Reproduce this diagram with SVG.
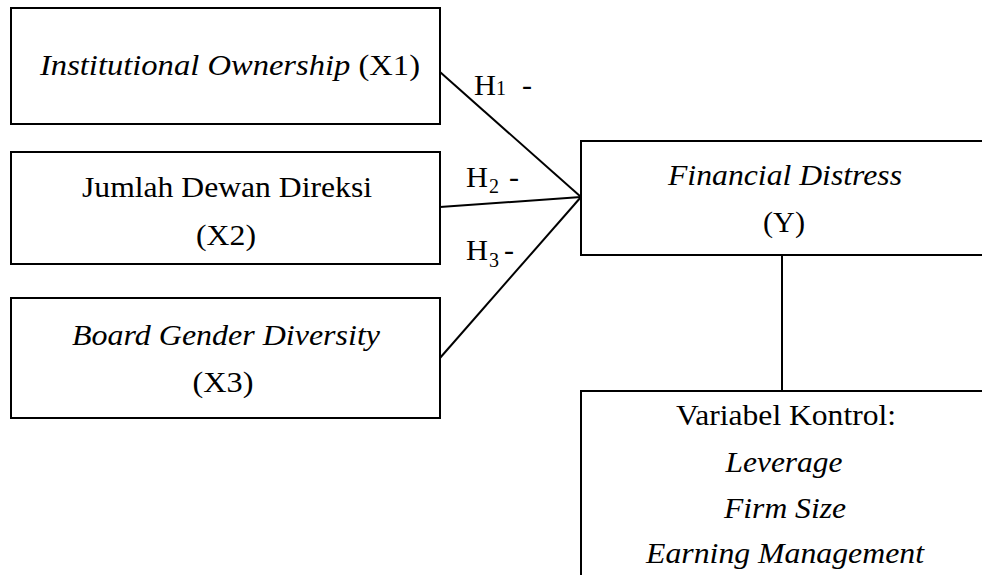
<svg xmlns="http://www.w3.org/2000/svg" width="982" height="575" viewBox="0 0 982 575">
<style>
.box{fill:#fff;stroke:#000;stroke-width:2}
text{font-family:'Liberation Serif','Times New Roman',Times,serif;font-size:30px;fill:#000}
.t{text-anchor:middle}
.i{font-style:italic}
.s{font-size:20px}
.c{stroke:#000;stroke-width:2;fill:none}
</style>
<rect width="982" height="575" fill="#fff"/>
<g id="connectors">
<line class="c" x1="440" y1="72" x2="581" y2="197"/>
<line class="c" x1="440" y1="207" x2="581" y2="197"/>
<line class="c" x1="440" y1="358" x2="581" y2="197"/>
<line class="c" x1="782" y1="255" x2="782" y2="391"/>
<text x="474" y="95" textLength="22" lengthAdjust="spacingAndGlyphs">H</text>
<text class="s" x="496" y="95">1</text>
<text x="522" y="95">-</text>
<text x="466" y="187" textLength="22" lengthAdjust="spacingAndGlyphs">H</text>
<text class="s" x="489" y="193">2</text>
<text x="509" y="187">-</text>
<text x="466" y="260" textLength="22" lengthAdjust="spacingAndGlyphs">H</text>
<text class="s" x="489" y="267">3</text>
<text x="504" y="260">-</text>
</g>
<g id="x1">
<rect class="box" x="11" y="8" width="429" height="116"/>
<text class="t" x="230" y="75" textLength="380" lengthAdjust="spacingAndGlyphs"><tspan class="i">Institutional Ownership</tspan> (X1)</text>
</g>
<g id="x2">
<rect class="box" x="11" y="152" width="429" height="112"/>
<text class="t" x="227" y="197" textLength="290" lengthAdjust="spacingAndGlyphs">Jumlah Dewan Direksi</text>
<text class="t" x="226" y="245" textLength="60" lengthAdjust="spacingAndGlyphs">(X2)</text>
</g>
<g id="x3">
<rect class="box" x="11" y="298" width="429" height="120"/>
<text class="t i" x="226" y="345" textLength="308" lengthAdjust="spacingAndGlyphs">Board Gender Diversity</text>
<text class="t" x="223" y="392" textLength="61" lengthAdjust="spacingAndGlyphs">(X3)</text>
</g>
<g id="y">
<rect class="box" x="581" y="141" width="420" height="114"/>
<text class="t i" x="785" y="185" textLength="234" lengthAdjust="spacingAndGlyphs">Financial Distress</text>
<text class="t" x="784" y="232" textLength="42" lengthAdjust="spacingAndGlyphs">(Y)</text>
</g>
<g id="control">
<rect class="box" x="581" y="391" width="420" height="200"/>
<text class="t" x="786" y="425" textLength="220" lengthAdjust="spacingAndGlyphs">Variabel Kontrol:</text>
<text class="t i" x="784" y="472" textLength="117" lengthAdjust="spacingAndGlyphs">Leverage</text>
<text class="t i" x="785" y="518" textLength="122" lengthAdjust="spacingAndGlyphs">Firm Size</text>
<text class="t i" x="785" y="563" textLength="278" lengthAdjust="spacingAndGlyphs">Earning Management</text>
</g>
</svg>
